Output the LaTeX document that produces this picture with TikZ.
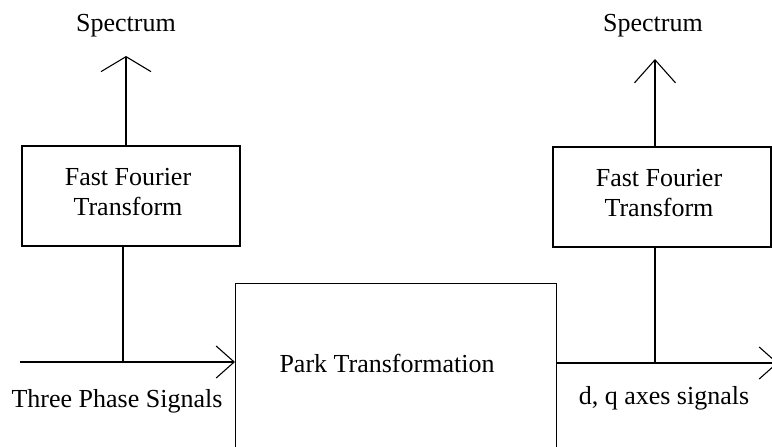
\documentclass[tikz,border=0pt]{standalone}
\usepackage{fontspec}
\setmainfont{Liberation Serif}
\usetikzlibrary{arrows.meta}
\begin{document}
\begin{tikzpicture}[x=1pt,y=-1pt, line width=1.1pt,
  box/.style={draw, line width=1.1pt, inner sep=0pt},
  txt/.style={inner sep=0pt, align=center, font=\fontsize{26}{30}\selectfont},
  lbl/.style={inner sep=0pt, font=\fontsize{26}{30}\selectfont, anchor=base},
  upbarb/.style={-{Straight Barb[length=15pt,width=50pt]}},
  upbarbR/.style={-{Straight Barb[length=23pt,width=41pt]}},
  sidebarb/.style={-{Straight Barb[length=18pt,width=32pt]}}
  ]
\useasboundingbox (0,0) rectangle (772,447);
\clip (0,0) rectangle (772,447);
\node[box, minimum width=218pt, minimum height=100pt] (fftL) at (131,196) {};
\node[txt] (fftLt) at (128,192) {Fast Fourier\\Transform};
\node[box, minimum width=218pt, minimum height=100pt] (fftR) at (662,197) {};
\node[txt] (fftRt) at (659,193) {Fast Fourier\\Transform};
\node[box, minimum width=321pt, minimum height=200pt, anchor=north west] (park) at (235,283) {};
\node[lbl] (parkt) at (387,372) {Park Transformation};
\node[lbl] (specL) at (126,31) {Spectrum};
\node[lbl] (specR) at (653,31) {Spectrum};
\node[lbl] (inlbl) at (117,407) {Three Phase Signals};
\node[lbl] (outlbl) at (664,404) {d, q axes signals};
\coordinate (tipL) at (126,56);
\coordinate (tipR) at (655,59);
\coordinate (inL) at (20,362);
\coordinate (jL) at (123,362);
\coordinate (outR) at (778,363);
\coordinate (jR) at (655,363);
\draw[upbarb] (fftL.north -| tipL) -- (tipL);
\draw[upbarbR] (fftR.north -| tipR) -- (tipR);
\draw[sidebarb] (inL) -- (inL -| park.west);
\draw (jL |- fftL.south) -- (jL);
\draw[sidebarb] (park.east |- outR) -- (outR);
\draw (jR |- fftR.south) -- (jR);
\end{tikzpicture}
\end{document}
